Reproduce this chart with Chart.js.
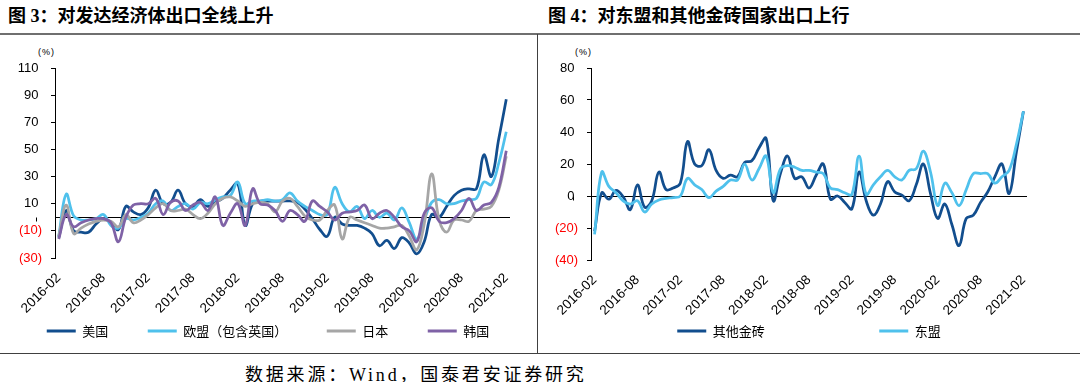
<!DOCTYPE html>
<html lang="zh-CN">
<head>
<meta charset="utf-8">
<title>对发达经济体及东盟、其他金砖国家出口</title>
<script src="https://cdn.jsdelivr.net/npm/chart.js@4.4.1/dist/chart.umd.min.js"></script>
<style>
  html, body { margin: 0; padding: 0; background: #fff; }
  #page { position: relative; width: 1080px; height: 382px; overflow: hidden; font-family: "Liberation Serif", "Noto Sans CJK SC", serif; color: #000; }
  .title { position: absolute; top: 1px; font-size: 18px; font-weight: bold; white-space: nowrap; }
  .rule { position: absolute; left: 0; width: 1080px; }
  .rule.top { top: 33px; height: 2px; background: #6f6f6f; }
  .rule.bottom { top: 353px; height: 1px; background: #404040; }
  .divider { position: absolute; left: 537px; top: 34px; width: 1px; height: 320px; background: #404040; }
  .unit { position: absolute; top: 47px; font-family: "Liberation Sans", sans-serif; font-size: 9px; letter-spacing: 1px; }
  .box { position: absolute; top: 36px; }
  .box canvas { display: block; }
  .source { position: absolute; left: 245px; top: 360px; font-size: 18px; letter-spacing: 2.8px; white-space: nowrap; }
</style>
</head>
<body>
<div id="page">
  <div class="title" style="left:8px">图 3：对发达经济体出口全线上升</div>
  <div class="title" style="left:548px">图 4：对东盟和其他金砖国家出口上行</div>
  <div class="rule top"></div>
  <div class="divider"></div>
  <div class="rule bottom"></div>
  <div class="unit" style="left:38px">(%)</div>
  <div class="unit" style="left:575px">(%)</div>
  <div class="box" style="left:0"><canvas id="chartDeveloped" width="536" height="316"></canvas></div>
  <div class="box" style="left:538px"><canvas id="chartEmerging" width="542" height="316"></canvas></div>
  <div class="source">数据来源：Wind，国泰君安证券研究</div>
</div>
<script>
(function () {
  'use strict';

  // 月份：2016-02 至 2021-02
  var months = [];
  for (var i = 0; i < 61; i++) {
    var t = 2016 * 12 + 1 + i;
    var mm = t % 12 + 1;
    months.push(Math.floor(t / 12) + '-' + (mm < 10 ? '0' : '') + mm);
  }
  var tickLabels = ['2016-02', '2016-08', '2017-02', '2017-08', '2018-02', '2018-08',
    '2019-02', '2019-08', '2020-02', '2020-08', '2021-02'];

  // 图 3：对发达经济体出口同比（%）
  var usa = [-15, 5, -10, -11, -11, -5, -1, -4, -9, 8,
    4, 2, 7, 20, 10, 11, 20, 10, 8, 13,
    8, 11, 14, 20, 25, -6, 10, 12, 12, 12,
    12, 12, 11, 6, -1, -9, -14, 0, -5, -6,
    -6, -8, -12, -21, -17, -23, -15, -19, -27, -18,
    2, 0, 8, 16, 20, 21, 21, 46, 30, 58, 87];
  var eu = [-14, 17, 1, -2, -2, -1, 2, -6, -8, -1,
    -2, 0, 3, 10, 12, 5, 8, 10, 6, 11,
    10, 13, 15, 16, 26, 10, 12, 12, 13, 12,
    13, 18, 12, 8, 5, 2, 2, 22, 10, 4,
    8, -1, 5, 0, 3, -2, 7, -4, -16, -2,
    11, 13, 10, 10, 12, 13, 14, 26, 24, 40, 63];
  var japan = [-14, 9, -12, -8, -5, -3, -2, -3, -7, 2,
    -4, -2, 2, 7, 10, 5, 5, 6, 2, -1,
    3, 10, 14, 15, 12, 8, 10, 11, 10, 4,
    12, 14, 8, 1, -2, -2, 5, 9, -16, 0,
    -2, -4, -6, -8, -8, -7, -6, -14, -24, -5,
    32, -2, -11, -2, -2, -3, 5, 6, 8, 20, 45];
  var korea = [-16, 2, -7, -4, -2, -1, -1, -4, -18, 0,
    9, 10, 10, 14, 2, 11, 12, 5, 9, 11,
    5, 15, -6, 3, 10, -6, 21, 10, 9, 5,
    -3, 5, 2, -3, 12, 8, 4, -2, 3, 4,
    5, 9, -1, 3, 5, 0, -7, -10, -18, 3,
    7, -3, -4, -1, 5, 14, 5, 9, 11, 22, 49];

  // 图 4：对东盟和其他金砖国家出口同比（%）
  var brics = [-22, 2, -2, 3.5, -0.5, -8.5, 7, -7, -3, 15,
    4, 5, 8, 34, 20, 19, 29, 16, 11, 13,
    12, 21, 22, 30, 36, -3, 14, 25, 11, 12,
    5, 13, 20, -2, 0, -4, -8, 15, -3, -12,
    -5, 9, 2.5, 0.5, -3, 7, 20, 1.5, -14, -5,
    -18, -31, -14, -12, -4, 2.5, 12, 20, 1.5, 27, 53];
  var asean = [-24, 15, 6, 2, -3, -5, -3, -10, -5, -2.5,
    -1.5, -1, 0, 11, 7, 4, -1, 3, 6, 10,
    10, 20, 10, 17, 25, 2, 17, 19, 18, 16,
    16, 15, 14, 5, 4, 2, 1, 25, 1, 7,
    12, 16, 12, 10, 16, 17, 28, 15, -6, 8,
    2, -6, 4, 14, 14, 14, 8, 12, 16, 32, 53];

  var axisFont = { family: '"Liberation Sans", Arial, sans-serif', size: 13 };
  var legendFont = { family: '"Noto Sans CJK SC", sans-serif', size: 13 };

  function line(label, data, color, order) {
    return {
      label: label,
      data: data,
      borderColor: color,
      backgroundColor: color,
      borderWidth: 2.75,
      pointRadius: 0,
      pointHoverRadius: 0,
      tension: 0.4,
      fill: false,
      order: order
    };
  }

  // 零轴线和每半年一个刻度，刻度落在分类边界上
  var zeroAxis = {
    id: 'zeroAxis',
    beforeDatasetsDraw: function (chart) {
      var xs = chart.scales.x;
      var ys = chart.scales.y;
      var area = chart.chartArea;
      var ctx = chart.ctx;
      var y0 = Math.round(ys.getPixelForValue(0)) + 0.5;
      var half = (xs.getPixelForTick(1) - xs.getPixelForTick(0)) / 2;
      ctx.save();
      ctx.strokeStyle = '#000';
      ctx.lineWidth = 1;
      ctx.beginPath();
      ctx.moveTo(area.left, y0);
      ctx.lineTo(area.right, y0);
      xs.ticks.forEach(function (tick, index) {
        if (tickLabels.indexOf(months[index]) < 0) return;
        var px = Math.round(xs.getPixelForTick(index) - half) + 0.5;
        ctx.moveTo(px, y0);
        ctx.lineTo(px, y0 + 4);
      });
      ctx.stroke();
      ctx.restore();
    }
  };

  // 图例项之间的空白占位
  function spacer() {
    return { text: '', fillStyle: 'rgba(0,0,0,0)', strokeStyle: 'rgba(0,0,0,0)', lineWidth: 0, hidden: false, datasetIndex: -1 };
  }

  function makeOptions(cfg) {
    return {
      responsive: false,
      animation: false,
      events: [],
      layout: { padding: { top: 32, bottom: 4.5, left: 0, right: 0 } },
      plugins: {
        tooltip: { enabled: false },
        legend: {
          position: 'bottom',
          labels: {
            boxWidth: 29,
            boxHeight: 3,
            padding: 2,
            color: '#000',
            font: legendFont,
            generateLabels: function (chart) {
              var items = Chart.defaults.plugins.legend.labels.generateLabels(chart);
              items.sort(function (a, b) { return a.datasetIndex - b.datasetIndex; });
              var out = [];
              items.forEach(function (item, n) {
                item.lineWidth = 0;
                item.strokeStyle = 'rgba(0,0,0,0)';
                if (n > 0) {
                  for (var s = 0; s < cfg.spacers; s++) out.push(spacer());
                }
                out.push(item);
              });
              return out;
            }
          }
        }
      },
      scales: {
        x: {
          offset: true,
          grid: { display: false },
          border: { display: false },
          ticks: {
            autoSkip: false,
            minRotation: 45,
            maxRotation: 45,
            padding: 4,
            color: '#000',
            font: { family: axisFont.family, size: 13.5 },
            callback: function (value, index) {
              return tickLabels.indexOf(months[index]) >= 0 ? months[index] : null;
            }
          },
          afterFit: function (scale) { scale.height = cfg.xHeight; }
        },
        y: {
          min: cfg.min,
          max: cfg.max,
          grid: { drawOnChartArea: false, color: '#000', tickLength: 4 },
          border: { color: '#000', width: 1 },
          ticks: {
            stepSize: 20,
            padding: 9,
            font: axisFont,
            color: function (ctx) { return ctx.tick && ctx.tick.value < 0 ? '#ff0000' : '#000'; },
            callback: function (value) {
              return value < 0 ? '(' + (-value) + ')' : value + ' ';
            }
          },
          afterFit: function (scale) { scale.width = cfg.yWidth; }
        },
        side: {
          type: 'linear',
          position: 'right',
          grid: { display: false },
          border: { display: false },
          ticks: { display: false },
          afterFit: function (scale) { scale.width = cfg.sideWidth; }
        }
      }
    };
  }

  new Chart(document.getElementById('chartDeveloped'), {
    type: 'line',
    data: {
      labels: months,
      datasets: [
        line('美国', usa, '#124e8e', 4),
        line('欧盟（包含英国）', eu, '#4fc1ec', 3),
        line('日本', japan, '#a6a6a6', 2),
        line('韩国', korea, '#7f62a6', 1)
      ]
    },
    options: makeOptions({ min: -30, max: 110, yWidth: 55, sideWidth: 26, xHeight: 64.5, spacers: 1 }),
    plugins: [zeroAxis]
  });

  new Chart(document.getElementById('chartEmerging'), {
    type: 'line',
    data: {
      labels: months,
      datasets: [
        line('其他金砖', brics, '#124e8e', 2),
        line('东盟', asean, '#4fc1ec', 1)
      ]
    },
    options: makeOptions({ min: -40, max: 80, yWidth: 53, sideWidth: 53, xHeight: 62.5, spacers: 3 }),
    plugins: [zeroAxis]
  });
})();
</script>
</body>
</html>
